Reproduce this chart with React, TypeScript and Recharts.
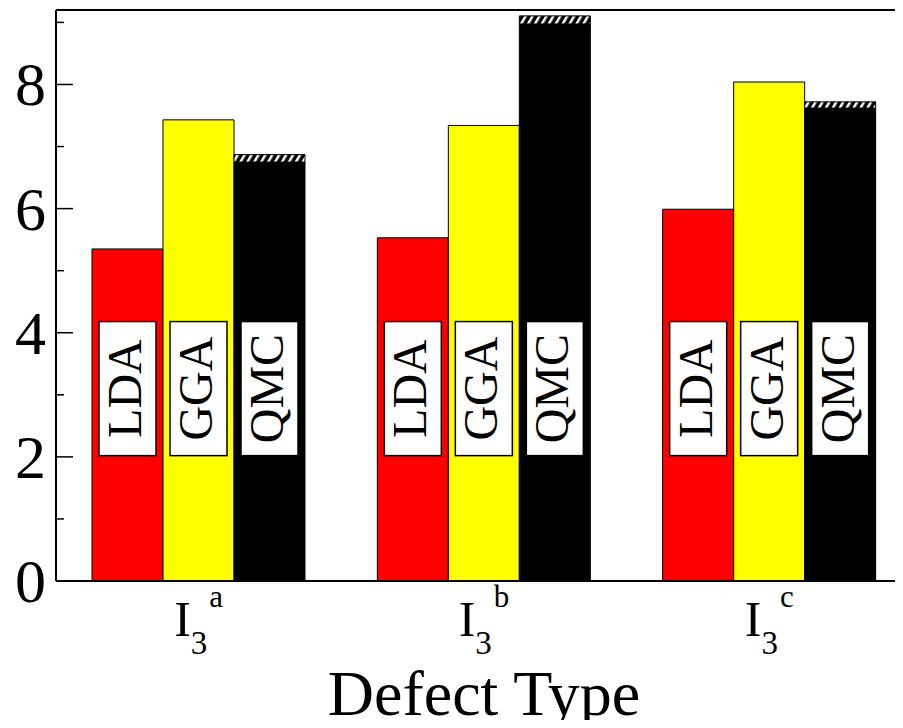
import { BarChart, Bar, XAxis, YAxis, LabelList, ReferenceLine } from "recharts";

// superscript letter of each defect type (I_3^a, I_3^b, I_3^c)
const defects = ["a", "b", "c"];
const lda = [5.35, 5.53, 5.99];
const gga = [7.43, 7.34, 8.04];
const qmc = [6.81, 9.04, 7.67];
const qmcErr = [0.06, 0.065, 0.05];
const yTicks = [0, 1, 2, 3, 4, 5, 6, 7, 8, 9];
const Y_MAX = 9.2;

const data = defects.map((d, i) => ({
  name: d,
  lda: lda[i],
  gga: gga[i],
  qmcBase: qmc[i] - qmcErr[i],
  qmcBand: 2 * qmcErr[i],
}));

const FONT = "'Liberation Serif', 'Times New Roman', serif";
// the method name boxes sit between these two y values
const BOX_LOW = 2.02;
const BOX_HIGH = 4.18;

const makeBoxLabel = (text: string) => (props: any) => {
  const { x, y, width, height, value } = props;
  const v = Array.isArray(value) ? value[value.length - 1] : Number(value);
  const ppu = height / v;
  const bottom = y + height;
  const top = bottom - BOX_HIGH * ppu;
  const low = bottom - BOX_LOW * ppu;
  const cx = x + width / 2 - 1.5;
  const cy = (top + low) / 2;
  return (
    <g>
      <rect x={x + 7} y={top} width={width - 14} height={low - top} fill="#fff" stroke="#000" strokeWidth={1.5} />
      <text
        x={cx}
        y={cy}
        dy={15}
        transform={`rotate(-90 ${cx} ${cy})`}
        textAnchor="middle"
        fontFamily={FONT}
        fontSize={48}
        fill="#000"
      >
        {text}
      </text>
    </g>
  );
};

const LeftTick = (props: any) => {
  const { x, y, payload } = props;
  const major = payload.value % 2 === 0;
  return (
    <g>
      <line x1={x} x2={x + (major ? 17 : 8)} y1={y} y2={y} stroke="#000" strokeWidth={1.5} />
      {major && (
        <text x={x - 10} y={y} dy={21} textAnchor="end" fontFamily={FONT} fontSize={62} fill="#000">
          {payload.value}
        </text>
      )}
    </g>
  );
};

const RightTick = (props: any) => {
  const { x, y, payload } = props;
  const major = payload.value % 2 === 0;
  return <line x1={x} x2={x - (major ? 17 : 8)} y1={y} y2={y} stroke="#000" strokeWidth={1.5} />;
};

const DefectTick = (props: any) => {
  const { x, y, payload } = props;
  return (
    <text x={x} y={y + 55} textAnchor="middle" fontFamily={FONT} fill="#000">
      <tspan fontSize={50}>I</tspan>
      <tspan fontSize={33} dy={18}>3</tspan>
      <tspan fontSize={31} dy={-47} dx={2}>
        {payload.value}
      </tspan>
    </text>
  );
};

export default function App() {
  return (
    <div style={{ width: 903, height: 728, overflow: "hidden", margin: -8, position: "relative" }}>
      <BarChart
        width={925}
        height={728}
        data={data}
        margin={{ top: 10, right: 0, bottom: 0, left: 0 }}
        barGap={0}
        barSize={71}
      >
        <defs>
          <pattern id="hatch" patternUnits="userSpaceOnUse" width={6} height={6} patternTransform="rotate(30)">
            <rect width={6} height={6} fill="#000" />
            <rect width={2.5} height={6} fill="#fff" />
          </pattern>
        </defs>
        <XAxis
          dataKey="name"
          height={147}
          axisLine={{ stroke: "#000", strokeWidth: 2 }}
          tickLine={false}
          tickSize={0}
          tickMargin={0}
          tick={<DefectTick />}
          label={{ value: "Defect Type", position: "insideBottom", offset: 13, fontSize: 64, fontFamily: FONT, fill: "#000" }}
        />
        <YAxis
          type="number"
          domain={[0, Y_MAX]}
          allowDataOverflow
          ticks={yTicks}
          interval={0}
          width={56}
          axisLine={{ stroke: "#000", strokeWidth: 2 }}
          tickLine={false}
          tickSize={0}
          tickMargin={0}
          tick={<LeftTick />}
        />
        <YAxis
          yAxisId="r"
          orientation="right"
          type="number"
          domain={[0, Y_MAX]}
          allowDataOverflow
          ticks={yTicks}
          interval={0}
          width={13}
          axisLine={{ stroke: "#000", strokeWidth: 2 }}
          tickLine={false}
          tickSize={0}
          tickMargin={0}
          tick={<RightTick />}
        />
        <ReferenceLine y={Y_MAX} stroke="#000" strokeWidth={2} />
        <Bar dataKey="lda" stackId="l" fill="#ff0000" stroke="#000" strokeWidth={1} isAnimationActive={false}>
          <LabelList dataKey="lda" content={makeBoxLabel("LDA")} />
        </Bar>
        <Bar dataKey="gga" stackId="g" fill="#ffff00" stroke="#000" strokeWidth={1} isAnimationActive={false}>
          <LabelList dataKey="gga" content={makeBoxLabel("GGA")} />
        </Bar>
        <Bar dataKey="qmcBase" stackId="q" fill="#000" stroke="#000" strokeWidth={1} isAnimationActive={false}>
          <LabelList dataKey="qmcBase" content={makeBoxLabel("QMC")} />
        </Bar>
        <Bar dataKey="qmcBand" stackId="q" fill="url(#hatch)" stroke="#000" strokeWidth={1} isAnimationActive={false} />
      </BarChart>
    </div>
  );
}
